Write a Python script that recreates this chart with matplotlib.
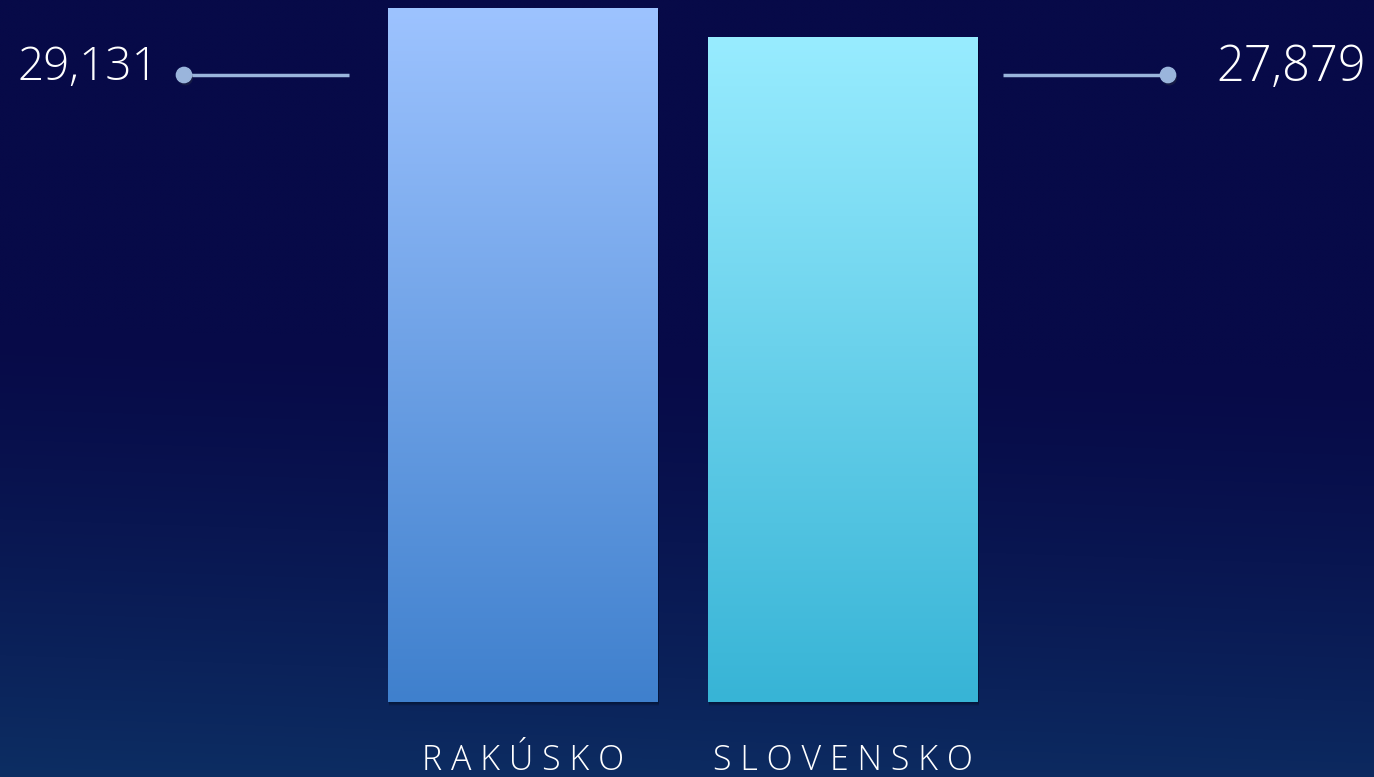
import numpy as np
import matplotlib.pyplot as plt
from matplotlib.colors import LinearSegmentedColormap
import matplotlib.patheffects as pe

# data
countries = ["RAKÚSKO", "SLOVENSKO"]
values = [29131, 27879]
value_labels = ["29,131", "27,879"]

# colours
bg_top = np.array([7, 10, 72]) / 255
bg_bottom = np.array([13, 46, 99]) / 255
bar_tops = ["#9dc3ff", "#98ecff"]
bar_bottoms = ["#3f80cd", "#37b4d6"]
dot_color = "#9ab5dc"

W, H = 1374, 777
fig = plt.figure(figsize=(W / 100, H / 100), dpi=100)

# background gradient (slightly diagonal)
bg = fig.add_axes([0, 0, 1, 1], zorder=0)
yy, xx = np.mgrid[0:1:300j, 0:1:400j]
t = np.clip((yy - 0.42 - 0.06 * xx) / (1 - 0.42), 0, 1) ** 1.3
img = bg_top[None, None, :] + (bg_bottom - bg_top)[None, None, :] * t[..., None]
bg.imshow(img, extent=(0, 1, 1, 0), aspect="auto", interpolation="bilinear")
bg.set_xlim(0, 1)
bg.set_ylim(1, 0)
bg.axis("off")

# main axes: baseline at pixel 702 from top, top of tallest bar at 8
base_px = 702
top_px = 8
ax = fig.add_axes([0, (H - base_px) / H, 1, (base_px - top_px) / H], zorder=1)
ax.patch.set_alpha(0)
x = np.arange(len(countries))
centers_px = [523, 842.5]
step = centers_px[1] - centers_px[0]
ax.set_xlim(-centers_px[0] / step, (W - centers_px[0]) / step)
ax.set_ylim(0, max(values))
ax.axis("off")

bars = ax.bar(x, values, width=270 / step, color="none", zorder=3, clip_on=False)
for i, b in enumerate(bars):
    x0, w, h = b.get_x(), b.get_width(), b.get_height()
    # soft shadow under bar
    for k in range(6):
        ax.add_patch(plt.Rectangle((x0 + 0.004, -k * 25 - 40), w, h, facecolor="black",
                                   alpha=0.06, zorder=2, clip_on=False, lw=0))
    cmap = LinearSegmentedColormap.from_list("g%d" % i, [bar_bottoms[i], bar_tops[i]])
    grad = np.linspace(0, 1, 256)[:, None]
    im = ax.imshow(grad, extent=(x0, x0 + w, 0, h), origin="lower", cmap=cmap,
                   aspect="auto", zorder=4, clip_on=False)
    im.set_clip_path(b)

# country labels
for i, name in enumerate(countries):
    ax.text(x[i], -0.084 * max(values), " ".join(name), ha="center", va="center",
            color="white", fontsize=24.5, family="Open Sans", fontweight="light",
            clip_on=False)

# value labels with leader lines (figure pixel coords)
ov = fig.add_axes([0, 0, 1, 1], zorder=5)
ov.set_xlim(0, W)
ov.set_ylim(H, 0)
ov.axis("off")
ov.patch.set_alpha(0)
shadow = [pe.SimplePatchShadow(offset=(1, -2), alpha=0.4), pe.Normal()]
ov.plot([184, 349], [75, 75], color=dot_color, lw=2.5, solid_capstyle="butt")
ov.plot([184], [75], "o", ms=11, color=dot_color, path_effects=shadow)
ov.plot([1003, 1168], [75, 75], color=dot_color, lw=2.5, solid_capstyle="butt")
ov.plot([1168], [75], "o", ms=11, color=dot_color, path_effects=shadow)
ov.text(17, 68, value_labels[0], ha="left", va="center", color="white",
        fontsize=33, family="Open Sans", fontweight="light")
ov.text(1366, 68, value_labels[1], ha="right", va="center", color="white",
        fontsize=35, family="Open Sans", fontweight="light")

fig.savefig("out.png", dpi=100)
